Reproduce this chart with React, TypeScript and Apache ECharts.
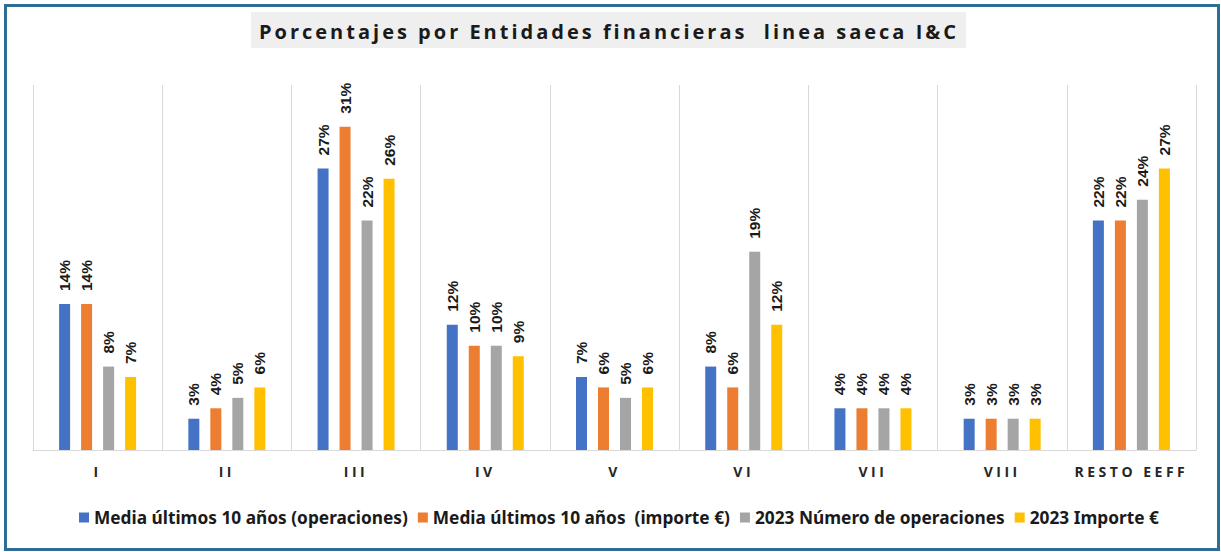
import React, { useEffect, useRef } from "react";
import * as echarts from "echarts";

const categories = ["I", "II", "III", "IV", "V", "VI", "VII", "VIII", "RESTO EEFF"];
const seriesNames = [
  "Media últimos 10 años (operaciones)",
  "Media últimos 10 años  (importe €)",
  "2023 Número de operaciones",
  "2023 Importe €",
];
const mediaOperaciones = [14, 3, 27, 12, 7, 8, 4, 3, 22];
const mediaImporte = [14, 4, 31, 10, 6, 6, 4, 3, 22];
const operaciones2023 = [8, 5, 22, 10, 5, 19, 4, 3, 24];
const importe2023 = [7, 6, 26, 9, 6, 12, 4, 3, 27];
const colors = ["#4472C4", "#ED7D31", "#A5A5A5", "#FFC000"];
const titleText = "Porcentajes por Entidades financieras  linea saeca I&C";

export default function App() {
  const ref = useRef<HTMLDivElement>(null);
  useEffect(() => {
    document.body.style.margin = "0";
    if (!ref.current) return;
    const el = ref.current;
    const chart = echarts.init(el, undefined, { renderer: "svg" });
    const values = [mediaOperaciones, mediaImporte, operaciones2023, importe2023];
    const applySpacing = () => {
      el.querySelectorAll("text").forEach((t) => {
        const s = t.textContent || "";
        if (s === titleText) {
          (t as any).style.letterSpacing = "3px";
        } else if (categories.indexOf(s) >= 0) {
          (t as any).style.letterSpacing = "3.5px";
        }
      });
    };
    chart.on("finished", applySpacing);
    chart.setOption({
      animation: false,
      color: colors,
      graphic: [
        {
          type: "rect",
          shape: { x: 5.5, y: 5.5, width: 1213, height: 544 },
          style: { fill: "none", stroke: "#2E6E94", lineWidth: 3 },
          z: 10,
        },
        {
          type: "rect",
          shape: { x: 251, y: 12, width: 715, height: 36 },
          style: { fill: "#EFEFEF" },
          z: 1,
        },
        {
          type: "text",
          x: 609,
          y: 31,
          style: {
            text: titleText,
            fill: "#1a1a1a",
            font: "bold 20px 'Open Sans'",
            align: "center",
            verticalAlign: "middle",
          },
          z: 2,
        },
      ],
      grid: { left: 33, right: 25, top: 85, bottom: 102 },
      legend: {
        bottom: 21,
        left: 74,
        itemWidth: 10,
        itemHeight: 10,
        itemGap: 10,
        icon: "rect",
        textStyle: { fontFamily: "Noto Sans", fontWeight: "bold", fontSize: 17.3, color: "#1a1a1a" },
        data: seriesNames,
      },
      xAxis: {
        type: "category",
        data: categories,
        axisTick: { show: false },
        axisLine: { lineStyle: { color: "#D9D9D9", width: 1 } },
        splitLine: { show: true, lineStyle: { color: "#D9D9D9", width: 1 } },
        axisLabel: {
          margin: 14,
          color: "#262626",
          fontWeight: "bold",
          fontSize: 14,
          fontFamily: "Open Sans",
        },
      },
      yAxis: {
        type: "value",
        min: 0,
        max: 35,
        show: false,
        splitLine: { show: false },
      },
      series: values.map((d, i) => ({
        name: seriesNames[i],
        type: "bar",
        data: d,
        barWidth: 11,
        barGap: "100%",
        label: {
          show: true,
          position: "top",
          rotate: 90,
          align: "left",
          verticalAlign: "middle",
          distance: 13,
          formatter: "{c}%",
          fontFamily: "Liberation Sans",
          fontWeight: "bold",
          fontSize: 15.5,
          color: "#1a1a1a",
        },
      })),
    });
    applySpacing();
    const raf = requestAnimationFrame(applySpacing);
    const to = setTimeout(applySpacing, 50);
    return () => {
      cancelAnimationFrame(raf);
      clearTimeout(to);
      chart.dispose();
    };
  }, []);
  return <div ref={ref} style={{ width: 1221, height: 552 }} />;
}
